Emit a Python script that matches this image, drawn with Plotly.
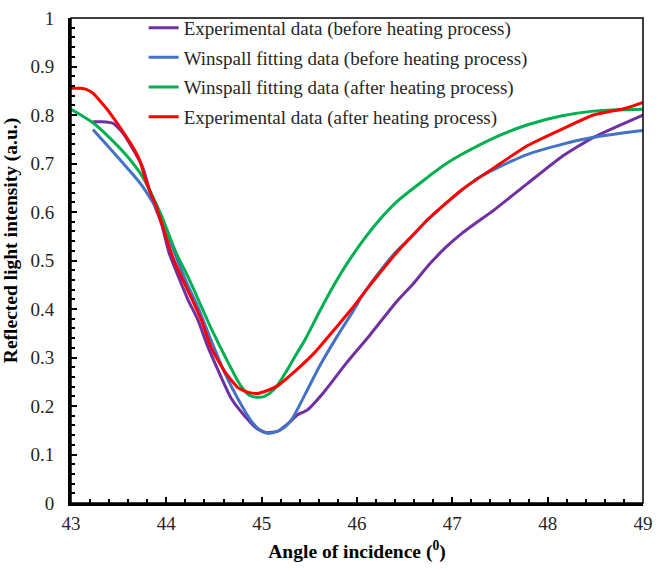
import plotly.graph_objects as go

# ---- data ----
exp_before_x = [43.23, 43.32, 43.44, 43.54, 43.64, 43.75, 43.85, 43.95, 44.03, 44.13, 44.23, 44.33,
                44.43, 44.54, 44.68, 44.82, 44.96, 45.06, 45.17, 45.30, 45.37, 45.48, 45.65, 45.89,
                46.13, 46.41, 46.59, 46.75, 46.93, 47.10, 47.45, 47.79, 48.14, 48.48, 49.0]
exp_before_y = [0.786, 0.786, 0.783, 0.764, 0.733, 0.693, 0.628, 0.575, 0.515, 0.465, 0.418, 0.378,
                0.325, 0.275, 0.216, 0.180, 0.152, 0.145, 0.148, 0.168, 0.181, 0.192, 0.228, 0.289,
                0.345, 0.414, 0.452, 0.490, 0.527, 0.556, 0.606, 0.659, 0.713, 0.754, 0.800]

fit_before_x = [43.23, 43.40, 43.58, 43.75, 43.87, 43.95, 44.06, 44.20, 44.34, 44.47, 44.62, 44.75,
                44.88, 44.97, 45.06, 45.20, 45.30, 45.45, 45.61, 45.79, 45.96, 46.07, 46.31, 46.41,
                46.59, 46.75, 47.10, 47.27, 47.45, 47.79, 48.14, 48.48, 49.0]
fit_before_y = [0.770, 0.733, 0.693, 0.653, 0.616, 0.590, 0.530, 0.460, 0.400, 0.335, 0.265, 0.215,
                0.172, 0.152, 0.144, 0.151, 0.168, 0.222, 0.283, 0.343, 0.396, 0.432, 0.495, 0.518,
                0.553, 0.586, 0.645, 0.670, 0.689, 0.719, 0.739, 0.754, 0.768]

fit_after_x = [43.0, 43.23, 43.40, 43.58, 43.75, 43.89, 43.95, 44.10, 44.23, 44.37, 44.47, 44.65,
               44.78, 44.87, 44.96, 45.03, 45.13, 45.27, 45.37, 45.45, 45.61, 45.76, 45.90, 46.07,
               46.25, 46.41, 46.75, 46.93, 47.10, 47.45, 47.79, 48.14, 48.48, 49.0]
fit_after_y = [0.812, 0.784, 0.754, 0.717, 0.673, 0.618, 0.592, 0.517, 0.465, 0.404, 0.360, 0.289,
               0.242, 0.222, 0.218, 0.220, 0.234, 0.275, 0.309, 0.335, 0.396, 0.450, 0.495, 0.543,
               0.587, 0.620, 0.673, 0.699, 0.719, 0.754, 0.780, 0.798, 0.808, 0.812]

exp_after_x = [43.0, 43.10, 43.16, 43.23, 43.30, 43.37, 43.46, 43.54, 43.63, 43.72, 43.79,
               43.85, 43.89, 43.95, 44.06, 44.16, 44.26, 44.37, 44.47, 44.62, 44.75, 44.86, 44.96,
               45.06, 45.17, 45.30, 45.55, 45.79, 45.96, 46.10, 46.23, 46.41, 46.59, 46.75, 47.10,
               47.45, 47.79, 48.14, 48.48, 48.82, 49.0]
exp_after_y = [0.855, 0.855, 0.853, 0.845, 0.830, 0.814, 0.790, 0.767, 0.740, 0.707, 0.662,
               0.632, 0.614, 0.578, 0.511, 0.465, 0.424, 0.376, 0.320, 0.269, 0.238, 0.228, 0.226,
               0.232, 0.242, 0.263, 0.309, 0.364, 0.404, 0.440, 0.472, 0.515, 0.553, 0.586, 0.646,
               0.693, 0.737, 0.770, 0.800, 0.814, 0.826]

names = ["Experimental data (before heating process)",
         "Winspall fitting data (before heating process)",
         "Winspall fitting data (after heating process)",
         "Experimental data (after heating process)"]
colors = ["#7030A0", "#4472C4", "#00B050", "#FF0000"]

FONT = "Liberation Serif, Times New Roman, serif"
TXT = "#262626"

fig = go.Figure()
series = [(exp_before_x, exp_before_y, 0.5), (fit_before_x, fit_before_y, 0.9),
          (fit_after_x, fit_after_y, 0.9), (exp_after_x, exp_after_y, 0.5)]
for i, ((xs, ys, sm), nm, c) in enumerate(zip(series, names, colors)):
    fig.add_trace(go.Scatter(x=xs, y=ys, mode="lines", name=nm, legendgroup=f"g{i}",
                             line=dict(color=c, width=3, shape="spline", smoothing=sm)))

fig.update_layout(
    width=661, height=571,
    margin=dict(l=71, r=11, t=8, b=68),
    paper_bgcolor="white", plot_bgcolor="white",
    font=dict(family=FONT, size=19, color=TXT),
    showlegend=True,
    legend=dict(x=0.127, y=1.019, xanchor="left", yanchor="top",
                bgcolor="rgba(0,0,0,0)", borderwidth=0, tracegroupgap=2,
                font=dict(family=FONT, size=19, color=TXT)),
    xaxis=dict(range=[43, 49], tick0=43, dtick=1, showgrid=False, zeroline=False,
               showline=True, linecolor="black", linewidth=3, mirror=False,
               ticks="inside", ticklen=6, tickwidth=2, tickcolor="black",
               minor=dict(dtick=0.2, ticks="inside", ticklen=4, tickwidth=2, tickcolor="black"),
               tickfont=dict(family=FONT, size=19, color=TXT),
               ticklabelstandoff=1, ticklabeloverflow="allow",
               title=dict(text="<b>Angle of incidence (<sup>0</sup>)</b>",
                          font=dict(family=FONT, size=19.5, color="black"), standoff=12)),
    yaxis=dict(range=[0, 1], tick0=0, dtick=0.1, showgrid=False, zeroline=False,
               showline=True, linecolor="black", linewidth=3, mirror=False,
               ticks="inside", ticklen=6, tickwidth=2, tickcolor="black",
               minor=dict(dtick=0.02, ticks="inside", ticklen=4, tickwidth=2, tickcolor="black"),
               tickfont=dict(family=FONT, size=19, color=TXT),
               ticklabelstandoff=10, ticklabeloverflow="allow"),
)
fig.add_annotation(text="<b>Reflected light intensity (a.u.)</b>", textangle=-90,
                   xref="paper", yref="paper", x=(11 - 71) / 579, y=1 - (235 - 8) / 495,
                   xanchor="center", yanchor="middle", showarrow=False,
                   font=dict(family=FONT, size=19.5, color="black"))
fig.add_shape(type="rect", xref="paper", yref="paper", x0=0, y0=0, x1=1, y1=1,
              line=dict(color="black", width=1.5), layer="above")

fig.write_html("out.html")
